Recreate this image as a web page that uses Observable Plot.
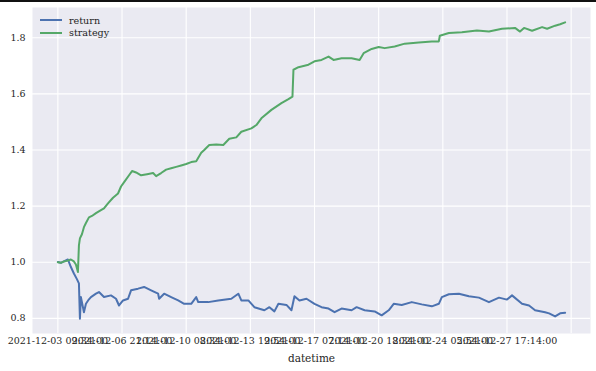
<!DOCTYPE html>
<html>
<head>
<meta charset="utf-8">
<script src="https://cdn.jsdelivr.net/npm/d3@7"></script>
<script src="https://cdn.jsdelivr.net/npm/@observablehq/plot@0.6"></script>
<style>
  html, body { margin: 0; padding: 0; background: #fff; }
  #wrap { position: relative; width: 596px; height: 371px; overflow: hidden; }
  #topbar { position: absolute; left: 0; top: 0; width: 596px; height: 2px; background: #111; }
  #legend { position: absolute; left: 40px; top: 14px; font-family: "DejaVu Serif", serif; font-size: 9.6px; color: #262626; }
  #legend .row { display: flex; align-items: center; height: 12.6px; }
  #legend .sw { width: 22px; height: 0; border-top: 2px solid; margin-right: 7px; }
  svg text { font-family: "DejaVu Serif", serif; }
</style>
</head>
<body>
<div id="wrap"><div id="topbar"></div><div id="legend"></div></div>
<script>
// row index of each sample (x is the ordinal row position; ticks every 5000 rows)
const strategyIdx = [0,234,469,703,1016,1250,1406,1563,1641,1719,1875,2031,2188,2422,2656,2969,3359,3594,3906,4297,4688,4922,5234,5547,5781,6094,6484,6953,7422,7656,8047,8438,8828,9219,9609,10000,10391,10781,11172,11406,11797,12344,12891,13359,13906,14297,15078,15469,15859,16641,17422,17969,18281,18359,18750,19531,20000,20547,21094,21484,22109,22891,23516,23828,24453,25000,25469,26250,27031,28125,29141,29688,29766,30469,31484,32656,33594,34609,35625,36016,36328,36953,37734,38125,38750,39141,39531];
const strategyVal = [1.000,0.998,1.003,1.005,1.010,1.003,0.992,0.965,1.060,1.085,1.100,1.125,1.140,1.160,1.165,1.175,1.186,1.192,1.210,1.230,1.245,1.270,1.290,1.310,1.325,1.320,1.310,1.314,1.318,1.307,1.318,1.330,1.335,1.340,1.345,1.350,1.357,1.360,1.390,1.400,1.418,1.420,1.418,1.440,1.445,1.465,1.477,1.489,1.513,1.543,1.567,1.581,1.590,1.686,1.695,1.704,1.716,1.721,1.733,1.721,1.727,1.727,1.721,1.745,1.760,1.767,1.763,1.769,1.779,1.783,1.787,1.787,1.807,1.817,1.820,1.826,1.822,1.832,1.835,1.822,1.835,1.825,1.838,1.832,1.843,1.848,1.855];

const returnIdx = [0,234,469,781,1016,1250,1484,1641,1719,1797,1953,2031,2188,2422,2578,2969,3203,3594,4141,4531,4766,5078,5469,5703,6250,6719,7266,7813,7891,8281,8828,9375,9844,10391,10781,10938,11719,12500,13516,14063,14297,14844,15313,16094,16484,16875,17188,17813,18203,18438,18828,19375,20000,20547,21094,21563,22109,22891,23281,23906,24688,25234,25781,26172,26797,27578,28359,29141,29688,29922,30469,31250,32031,32813,33594,34375,35000,35391,36172,36719,37188,37969,38281,38750,39141,39531];
const returnVal = [1.001,0.998,1.003,1.010,0.983,0.960,0.940,0.925,0.799,0.876,0.840,0.822,0.852,0.868,0.876,0.888,0.894,0.876,0.882,0.870,0.846,0.864,0.870,0.900,0.906,0.912,0.900,0.888,0.870,0.888,0.876,0.864,0.852,0.852,0.876,0.858,0.858,0.864,0.870,0.888,0.864,0.864,0.840,0.829,0.840,0.825,0.852,0.848,0.829,0.879,0.864,0.870,0.852,0.840,0.835,0.822,0.835,0.829,0.840,0.829,0.825,0.811,0.829,0.852,0.848,0.858,0.850,0.843,0.852,0.876,0.886,0.888,0.879,0.874,0.858,0.874,0.867,0.882,0.852,0.846,0.829,0.822,0.818,0.807,0.818,0.820];

const xTickIdx = [0,5000,10000,15000,20000,25000,30000,35000,40000];
const xTickLabels = ["2021-12-03 09:34:00","2021-12-06 21:14:00","2021-12-10 08:34:00","2021-12-13 19:54:00","2021-12-17 07:14:00","2021-12-20 18:34:00","2021-12-24 05:54:00","2021-12-27 17:14:00",""];
const yTicks = [0.8,1.0,1.2,1.4,1.6,1.8];
const seriesNames = ["return","strategy"];
const seriesColors = ["#4c72b0","#55a868"];
const FONT = "'DejaVu Serif', serif";

const rows = [
  ...returnIdx.map((i, k) => ({series: "return", idx: i, value: returnVal[k]})),
  ...strategyIdx.map((i, k) => ({series: "strategy", idx: i, value: strategyVal[k]}))
];

const lastIdx = Math.max(d3.max(returnIdx), d3.max(strategyIdx));
const xPad = lastIdx * 0.05;
const yMin = d3.min([...returnVal, ...strategyVal]), yMax = d3.max([...returnVal, ...strategyVal]);
const yPad = (yMax - yMin) * 0.05;

const chart = Plot.plot({
  width: 596,
  height: 371,
  marginLeft: 32,
  marginRight: 6,
  marginTop: 7,
  marginBottom: 38,
  style: {fontFamily: FONT, fontSize: "9.5px", color: "#262626", background: "transparent"},
  x: {type: "linear", domain: [-xPad, lastIdx + xPad]},
  y: {domain: [yMin - yPad, yMax + yPad]},
  color: {domain: seriesNames, range: seriesColors},
  marks: [
    Plot.frame({fill: "#eaeaf2", stroke: null}),
    Plot.gridX(xTickIdx, {stroke: "white", strokeOpacity: 1, strokeWidth: 1.1}),
    Plot.gridY(yTicks, {stroke: "white", strokeOpacity: 1, strokeWidth: 1.1}),
    Plot.axisY(yTicks, {tickSize: 0, tickPadding: 7, tickFormat: d3.format(".1f"), label: null, fontFamily: FONT, fontSize: 9.5}),
    Plot.axisX(xTickIdx, {tickSize: 0, tickPadding: 4, tickFormat: (d) => xTickLabels[xTickIdx.indexOf(d)], label: null, fontFamily: FONT, fontSize: 9.5}),
    Plot.line(rows, {x: "idx", y: "value", z: "series", stroke: "series", strokeWidth: 2, strokeLinejoin: "round"}),
    Plot.text(["datetime"], {frameAnchor: "bottom", dy: 25, fontSize: 10.5, fontFamily: FONT, fill: "#262626", lineAnchor: "middle"})
  ]
});
document.getElementById("wrap").appendChild(chart);
chart.style.position = "absolute";
chart.style.left = "0";
chart.style.top = "0";

const legend = document.getElementById("legend");
seriesNames.forEach((n, i) => {
  const row = document.createElement("div");
  row.className = "row";
  const sw = document.createElement("span");
  sw.className = "sw";
  sw.style.borderColor = seriesColors[i];
  const t = document.createElement("span");
  t.textContent = n;
  row.appendChild(sw); row.appendChild(t);
  legend.appendChild(row);
});
document.getElementById("wrap").appendChild(document.getElementById("topbar"));
document.getElementById("wrap").appendChild(legend);
</script>
</body>
</html>
